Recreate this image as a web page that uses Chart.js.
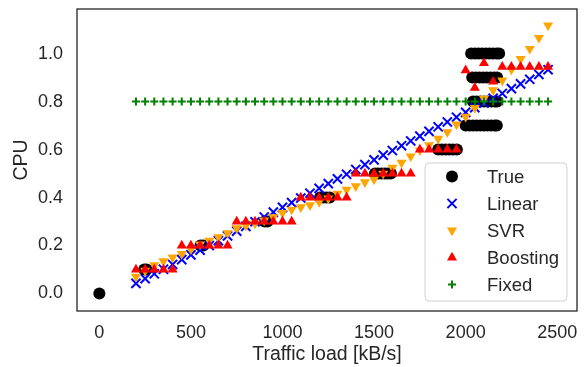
<!DOCTYPE html>
<html>
<head>
<meta charset="utf-8">
<script src="https://cdn.jsdelivr.net/npm/chart.js@4.4.0/dist/chart.umd.min.js"></script>
<style>
  html, body { margin: 0; padding: 0; background: #ffffff; }
  #wrap { width: 588px; height: 367px; position: relative; }
</style>
</head>
<body>
<div id="wrap"><canvas id="c" width="588" height="367"></canvas></div>
<script>
// ---- data ----
const seriesNames = ['True', 'Linear', 'SVR', 'Boosting', 'Fixed'];

// traffic loads used by the prediction models
const trafficLoad = [200,250,300,350,400,450,500,550,600,650,700,750,800,850,900,950,1000,1050,1100,1150,1200,1250,1300,1350,1400,1450,1500,1550,1600,1650,1700,1750,1800,1850,1900,1950,2000,2050,2100,2150,2200,2250,2300,2350,2400,2450];

// measured (true) CPU
const trueLoad = [0,245,258,552,568,902,918,1205,1222,1240,1258,1505,1522,1540,1558,1575,1592,1850,1870,1890,1910,1930,1952,
  2000,2020,2040,2060,2080,2100,2120,2140,2160,2170,
  2040,2060,2080,2100,2120,2140,2160,2172,
  2036,2056,2076,2096,2116,2136,2156,2172,
  2030,2050,2070,2090,2110,2130,2150,2170,2183];
const trueCpu = [0,0.1,0.1,0.2,0.2,0.3,0.3,0.4,0.4,0.4,0.4,0.5,0.5,0.5,0.5,0.5,0.5,0.6,0.6,0.6,0.6,0.6,0.6,
  0.7,0.7,0.7,0.7,0.7,0.7,0.7,0.7,0.7,0.7,
  0.8,0.8,0.8,0.8,0.8,0.8,0.8,0.8,
  0.9,0.9,0.9,0.9,0.9,0.9,0.9,0.9,
  1.0,1.0,1.0,1.0,1.0,1.0,1.0,1.0,1.0];

const linearCpu = [0.042,0.062,0.082,0.101,0.121,0.141,0.161,0.181,0.200,0.220,0.240,0.260,0.280,0.299,0.319,0.339,0.359,0.379,0.398,0.418,0.438,0.458,0.478,0.497,0.517,0.537,0.557,0.577,0.596,0.616,0.636,0.656,0.676,0.695,0.715,0.735,0.755,0.775,0.794,0.814,0.834,0.854,0.874,0.893,0.913,0.933];

const svrCpu = [0.070,0.095,0.118,0.135,0.150,0.165,0.185,0.205,0.220,0.235,0.252,0.272,0.283,0.292,0.305,0.318,0.336,0.350,0.360,0.368,0.382,0.396,0.416,0.433,0.447,0.464,0.476,0.500,0.525,0.545,0.572,0.597,0.618,0.645,0.673,0.705,0.737,0.774,0.812,0.848,0.888,0.934,0.978,1.020,1.066,1.118];

const boostingCpu = [0.1,0.1,0.1,0.1,0.1,
  0.2,0.2,0.2,0.2,0.2,0.2,
  0.3,0.3,0.3,0.3,0.3,0.3,0.3,
  0.4,0.4,0.4,0.4,0.4,0.4,
  0.5,0.5,0.5,0.5,0.5,0.5,0.5,
  0.6,0.6,0.6,0.6,0.6,
  0.930,0.857,0.960,0.883,
  0.945,0.945,0.945,0.945,0.945,0.945];

const fixedCpu = [0.8,0.8,0.8,0.8,0.8,0.8,0.8,0.8,0.8,0.8,0.8,0.8,0.8,0.8,0.8,0.8,0.8,0.8,0.8,0.8,0.8,0.8,0.8,0.8,0.8,0.8,0.8,0.8,0.8,0.8,0.8,0.8,0.8,0.8,0.8,0.8,0.8,0.8,0.8,0.8,0.8,0.8,0.8,0.8,0.8,0.8];

const xTickValues = [0, 500, 1000, 1500, 2000, 2500];
const xTickLabels = ['0', '500', '1000', '1500', '2000', '2500'];
const yTickValues = [0.0, 0.2, 0.4, 0.6, 0.8, 1.0];
const yTickLabels = ['0.0', '0.2', '0.4', '0.6', '0.8', '1.0'];
const xTitle = 'Traffic load [kB/s]';
const yTitle = 'CPU';

// ---- build chart ----
function pairs(xs, ys) { return xs.map((x, i) => ({ x: x, y: ys[i] })); }

const FONT = "'Liberation Sans', Arial, sans-serif";
const INK = '#262626';

const styles = [
  { pointStyle: 'circle', radius: 6, backgroundColor: '#000000', borderColor: '#000000', borderWidth: 0, rotation: 0, order: 5 },
  { pointStyle: 'crossRot', radius: 6.5, backgroundColor: '#0000ff', borderColor: '#0000ff', borderWidth: 2, rotation: 0, order: 4 },
  { pointStyle: 'triangle', radius: 5.8, backgroundColor: '#ffa500', borderColor: '#ffa500', borderWidth: 0, rotation: 180, order: 3 },
  { pointStyle: 'triangle', radius: 5.8, backgroundColor: '#ff0000', borderColor: '#ff0000', borderWidth: 0, rotation: 0, order: 2 },
  { pointStyle: 'cross', radius: 4, backgroundColor: '#008000', borderColor: '#008000', borderWidth: 2, rotation: 0, order: 1 }
];

const seriesData = [
  pairs(trueLoad, trueCpu),
  pairs(trafficLoad, linearCpu),
  pairs(trafficLoad, svrCpu),
  pairs(trafficLoad, boostingCpu),
  pairs(trafficLoad, fixedCpu)
];

const datasets = seriesNames.map((name, i) => ({
  label: name,
  data: seriesData[i],
  pointStyle: styles[i].pointStyle,
  pointRadius: styles[i].radius,
  pointHoverRadius: styles[i].radius,
  pointRotation: styles[i].rotation,
  pointBackgroundColor: styles[i].backgroundColor,
  pointBorderColor: styles[i].borderColor,
  pointBorderWidth: styles[i].borderWidth,
  backgroundColor: styles[i].backgroundColor,
  borderColor: styles[i].borderColor,
  showLine: false,
  order: styles[i].order,
  clip: false
}));

const frameAndLegend = {
  id: 'frameAndLegend',
  afterDatasetsDraw(chart) {
    const ctx = chart.ctx;
    const a = chart.chartArea;
    ctx.save();
    ctx.strokeStyle = INK;
    ctx.lineWidth = 1.3;
    ctx.strokeRect(a.left, a.top, a.right - a.left, a.bottom - a.top);

    // legend box (lower right, inside axes)
    const bx = 425, by = 163, bw = 142, bh = 138, r = 4;
    ctx.beginPath();
    ctx.moveTo(bx + r, by);
    ctx.lineTo(bx + bw - r, by);
    ctx.arcTo(bx + bw, by, bx + bw, by + r, r);
    ctx.lineTo(bx + bw, by + bh - r);
    ctx.arcTo(bx + bw, by + bh, bx + bw - r, by + bh, r);
    ctx.lineTo(bx + r, by + bh);
    ctx.arcTo(bx, by + bh, bx, by + bh - r, r);
    ctx.lineTo(bx, by + r);
    ctx.arcTo(bx, by, bx + r, by, r);
    ctx.closePath();
    ctx.fillStyle = 'rgba(255,255,255,0.8)';
    ctx.fill();
    ctx.strokeStyle = '#d0d0d0';
    ctx.lineWidth = 1;
    ctx.stroke();

    const rowY = [176.5, 203.5, 230.5, 257.5, 284.5];
    ctx.font = '18.5px ' + FONT;
    ctx.textBaseline = 'middle';
    ctx.textAlign = 'left';
    seriesNames.forEach((name, i) => {
      const s = styles[i];
      ctx.fillStyle = s.backgroundColor;
      ctx.strokeStyle = s.borderColor;
      ctx.lineWidth = s.borderWidth;
      Chart.helpers.drawPoint(ctx, {
        pointStyle: s.pointStyle,
        radius: s.radius,
        rotation: s.rotation,
        borderWidth: s.borderWidth
      }, 452, rowY[i]);
      ctx.fillStyle = INK;
      ctx.fillText(name, 487, rowY[i] + 1);
    });
    ctx.restore();
  }
};

new Chart(document.getElementById('c'), {
  type: 'scatter',
  data: { datasets: datasets },
  options: {
    responsive: false,
    animation: false,
    devicePixelRatio: 1,
    layout: { padding: { top: 9, right: 11, left: 0, bottom: 0 } },
    plugins: { legend: { display: false }, tooltip: { enabled: false } },
    scales: {
      x: {
        type: 'linear',
        min: -122,
        max: 2608,
        afterFit(scale) { scale.height = 56; scale.paddingLeft = 0; scale.paddingRight = 0; },
        afterBuildTicks(scale) { scale.ticks = xTickValues.map(v => ({ value: v })); },
        grid: { display: false, drawTicks: false },
        border: { display: false },
        ticks: {
          padding: 11,
          color: INK,
          font: { family: FONT, size: 18 },
          maxRotation: 0,
          autoSkip: false,
          callback(value) { const k = xTickValues.indexOf(value); return k >= 0 ? xTickLabels[k] : ''; }
        },
        title: {
          display: true,
          text: xTitle,
          color: INK,
          font: { family: FONT, size: 19.5, lineHeight: 1.2 },
          padding: { top: 0, bottom: 1 }
        }
      },
      y: {
        type: 'linear',
        min: -0.073,
        max: 1.186,
        afterFit(scale) { scale.width = 77; scale.paddingTop = 0; scale.paddingBottom = 0; },
        afterBuildTicks(scale) { scale.ticks = yTickValues.map(v => ({ value: v })); },
        grid: { display: false, drawTicks: false },
        border: { display: false },
        ticks: {
          padding: 14,
          color: INK,
          font: { family: FONT, size: 18 },
          autoSkip: false,
          callback(value) {
            let k = -1;
            yTickValues.forEach((v, i) => { if (Math.abs(v - value) < 1e-9) k = i; });
            return k >= 0 ? yTickLabels[k] : '';
          }
        },
        title: {
          display: true,
          text: yTitle,
          color: INK,
          font: { family: FONT, size: 19.5, lineHeight: 1.2 },
          padding: { top: 10, bottom: 0 }
        }
      }
    }
  },
  plugins: [frameAndLegend]
});
</script>
</body>
</html>
